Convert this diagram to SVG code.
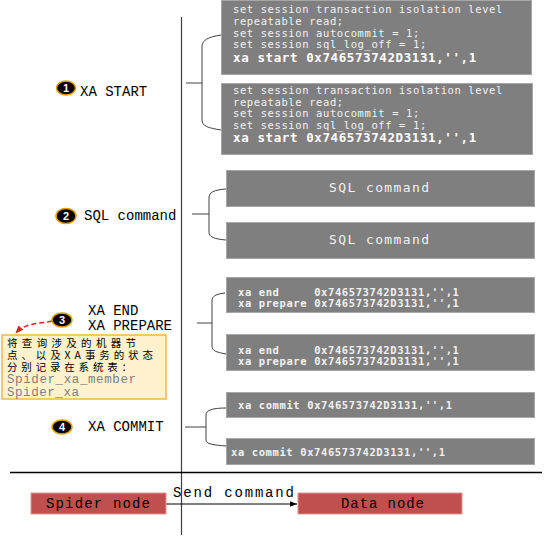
<svg xmlns="http://www.w3.org/2000/svg" width="544" height="539" viewBox="0 0 544 539">
<defs>
<style>
.box{fill:#7f7f7f;stroke:#a6a6a6;stroke-width:1}
.red{fill:#c0504d;stroke:#d99694;stroke-width:1}
.code{font-family:"DejaVu Sans Mono","Liberation Mono",monospace;font-size:10.5px;letter-spacing:0.6px;fill:#f2f2f2;white-space:pre}
.codeb{font-family:"DejaVu Sans Mono","Liberation Mono",monospace;font-size:10.5px;letter-spacing:0.6px;font-weight:bold;fill:#f2f2f2;white-space:pre}
.xas{font-family:"DejaVu Sans Mono","Liberation Mono",monospace;font-size:12.5px;letter-spacing:0.6px;font-weight:bold;fill:#ffffff;white-space:pre}
.sql{font-family:"DejaVu Sans Mono","Liberation Mono",monospace;font-size:13px;fill:#f2f2f2;letter-spacing:1.4px}
.lbl{font-family:"Liberation Mono","Courier New",monospace;font-size:14px;fill:#000000;white-space:pre}
.num{fill:#000000;stroke:#e0a000;stroke-width:1.5}
.numt{font-family:"Liberation Sans",Arial,sans-serif;font-size:11px;font-weight:bold;fill:#ffffff;text-anchor:middle}
.brace{fill:none;stroke:#404040;stroke-width:1}
.stem{fill:none;stroke:#808080;stroke-width:1.5}
.cjk{font-family:"Noto Sans CJK SC","Noto Sans",sans-serif;font-size:10.5px;fill:#000000}
.tbl{font-family:"Liberation Mono","Courier New",monospace;font-size:12.5px;fill:#7f7f7f}
</style>
<marker id="arr" viewBox="0 0 10 10" refX="10" refY="5" markerWidth="7" markerHeight="7" orient="auto" markerUnits="userSpaceOnUse">
<path d="M0,1 L10,5 L0,9 z" fill="#000000"/>
</marker>
<marker id="arrR" viewBox="0 0 10 10" refX="9" refY="5" markerWidth="8" markerHeight="8" orient="auto" markerUnits="userSpaceOnUse">
<path d="M0,1 L10,5 L0,9 z" fill="#e02020"/>
</marker>
</defs>
<rect width="544" height="539" fill="#ffffff"/>

<g id="frame">
<line x1="181.5" y1="17" x2="181.5" y2="535" stroke="#404040" stroke-width="1.2"/>
<line x1="10" y1="472.5" x2="542" y2="472.5" stroke="#000000" stroke-width="1.5"/>
</g>

<g id="connectors">
<line class="stem" x1="186" y1="83" x2="202" y2="83"/>
<path class="brace" d="M221,35 C208,37 202,40 202,47 L202,120 C202,126 208,128 221,130"/>
<line class="stem" x1="192" y1="214" x2="209" y2="214"/>
<path class="brace" d="M226,189 C214,190 209,192 209,198 L209,232 C209,237 214,239 226,240"/>
<line class="stem" x1="197" y1="323" x2="212" y2="323"/>
<path class="brace" d="M225,293 C216,294 212,296 212,301 L212,346 C212,351 216,352 226,354"/>
<line class="stem" x1="185" y1="427" x2="206" y2="427"/>
<path class="brace" d="M226,408 C213,408 206,410 206,415 L206,440 C206,444 213,445 226,446"/>
<path d="M52,321 C40,324 26,322 16,333" fill="none" stroke="#e02020" stroke-width="1.5" stroke-dasharray="5,3" marker-end="url(#arrR)"/>
<line x1="166" y1="504" x2="297" y2="504" stroke="#000000" stroke-width="1" marker-end="url(#arr)"/>
<text class="lbl" x="173" y="497" textLength="121">Send command</text>
</g>

<g id="step1">
<ellipse class="num" cx="66" cy="88" rx="9.5" ry="7"/>
<text class="numt" x="66" y="92">1</text>
<text class="lbl" x="80" y="96">XA START</text>
</g>
<g id="xastart1">
<rect class="box" x="221.5" y="0.5" width="310" height="74"/>
<text class="code" x="233" y="12.5">set session transaction isolation level</text>
<text class="code" x="233" y="24.5">repeatable read;</text>
<text class="code" x="233" y="36.5">set session autocommit = 1;</text>
<text class="code" x="233" y="48">set session sql_log_off = 1;</text>
<text class="xas" x="233" y="62">xa start 0x746573742D3131,'',1</text>
</g>
<g id="xastart2">
<rect class="box" x="221.5" y="83.5" width="311" height="71"/>
<text class="code" x="233" y="94">set session transaction isolation level</text>
<text class="code" x="233" y="105.5">repeatable read;</text>
<text class="code" x="233" y="117">set session autocommit = 1;</text>
<text class="code" x="233" y="128.5">set session sql_log_off = 1;</text>
<text class="xas" x="233" y="142">xa start 0x746573742D3131,'',1</text>
</g>

<g id="step2">
<ellipse class="num" cx="66" cy="216" rx="10" ry="7.5"/>
<text class="numt" x="66" y="220">2</text>
<text class="lbl" x="84" y="220">SQL command</text>
</g>
<g id="sql1">
<rect class="box" x="226.5" y="170.5" width="308" height="36"/>
<text class="sql" x="329" y="192">SQL command</text>
</g>
<g id="sql2">
<rect class="box" x="226.5" y="222.5" width="308" height="36"/>
<text class="sql" x="329" y="244">SQL command</text>
</g>

<g id="step3">
<ellipse class="num" cx="62" cy="320" rx="10" ry="7"/>
<text class="numt" x="62" y="324">3</text>
<text class="lbl" x="88" y="315">XA END</text>
<text class="lbl" x="88" y="330">XA PREPARE</text>
</g>
<g id="note">
<rect x="2" y="335" width="164" height="64" fill="#fff2cc" stroke="#f2b84b" stroke-width="1.5"/>
<text class="cjk" x="7" y="346.5" textLength="129">将查询涉及的机器节</text>
<text class="cjk" x="7" y="358.5" textLength="146">点、以及XA事务的状态</text>
<text class="cjk" x="7" y="370.5" textLength="125">分别记录在系统表：</text>
<text class="tbl" x="7" y="383" textLength="129">Spider_xa_member</text>
<text class="tbl" x="7" y="396" textLength="72">Spider_xa</text>
</g>
<g id="prepare1">
<rect class="box" x="226.5" y="277.5" width="308" height="35"/>
<text class="codeb" x="238" y="296">xa end     0x746573742D3131,'',1</text>
<text class="codeb" x="238" y="307">xa prepare 0x746573742D3131,'',1</text>
</g>
<g id="prepare2">
<rect class="box" x="226.5" y="334.5" width="308" height="36"/>
<text class="codeb" x="238" y="354">xa end     0x746573742D3131,'',1</text>
<text class="codeb" x="238" y="365">xa prepare 0x746573742D3131,'',1</text>
</g>

<g id="step4">
<ellipse class="num" cx="62" cy="427" rx="10" ry="7"/>
<text class="numt" x="62" y="431">4</text>
<text class="lbl" x="88" y="431">XA COMMIT</text>
</g>
<g id="commit1">
<rect class="box" x="226.5" y="392.5" width="308" height="25"/>
<text class="codeb" x="238" y="409">xa commit 0x746573742D3131,'',1</text>
</g>
<g id="commit2">
<rect class="box" x="226.5" y="438.5" width="308" height="26"/>
<text class="codeb" x="231" y="456">xa commit 0x746573742D3131,'',1</text>
</g>

<g id="spider">
<rect class="red" x="31" y="493" width="135" height="21"/>
<text class="lbl" x="46" y="508" textLength="104">Spider node</text>
</g>
<g id="datanode">
<rect class="red" x="298" y="493" width="164" height="21"/>
<text class="lbl" x="341" y="508" textLength="83">Data node</text>
</g>
</svg>
